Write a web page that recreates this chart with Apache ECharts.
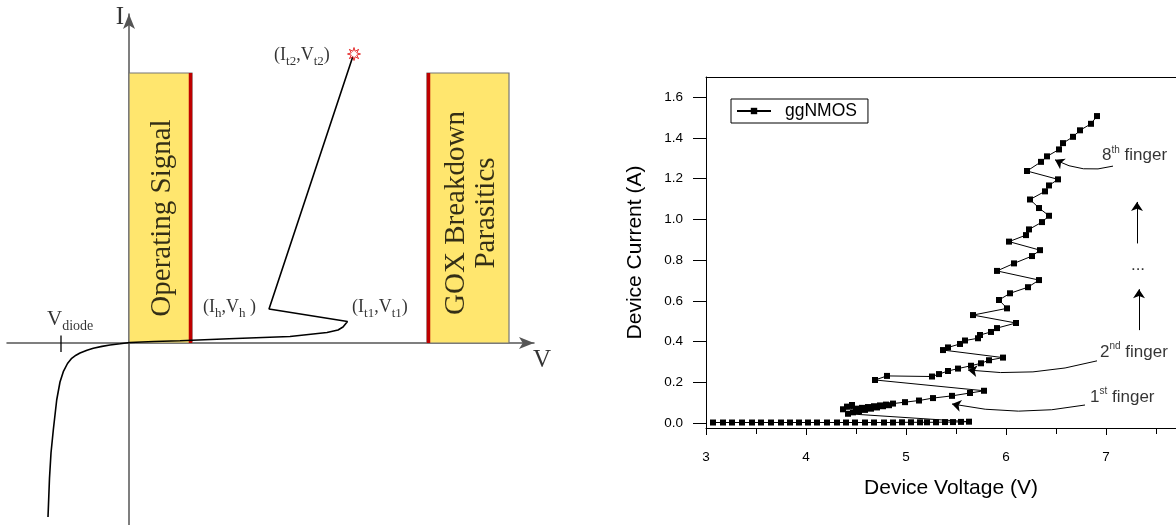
<!DOCTYPE html>
<html><head><meta charset="utf-8">
<script src="https://cdn.jsdelivr.net/npm/echarts@6/dist/echarts.min.js"></script>
<style>html,body{margin:0;padding:0;background:#fff}#c{width:1176px;height:525px}</style>
</head><body><div id="c"></div>
<script>
// ---------- Right chart: ggNMOS TLP curve (V, A) ----------
const ggVoltage = [3.07,3.17,3.26,3.36,3.46,3.55,3.65,3.75,3.84,3.93,4.02,4.11,4.21,4.31,4.40,4.49,4.59,4.68,4.78,4.87,4.96,5.05,5.14,5.21,5.30,5.39,5.47,5.55,5.63,
  4.42,4.47,4.53,4.59,4.65,4.71,4.77,4.83,4.37,4.41,4.46,4.50,4.56,4.62,4.68,4.74,4.80,4.87,
  4.99,5.13,5.27,5.46,5.64,5.78,
  4.69,4.81,5.26,5.33,5.42,5.52,5.65,5.75,5.83,5.97,
  5.37,5.42,5.54,5.59,5.72,5.74,5.85,5.91,6.10,
  5.67,6.01,5.93,6.04,6.22,6.33,
  5.91,6.08,6.26,6.34,
  6.03,6.20,6.23,6.36,6.43,6.33,6.24,6.39,6.43,6.52,
  6.21,6.35,6.41,6.53,6.57,6.67,6.74,6.85,6.91];
const ggCurrent = [0.002,0.002,0.002,0.002,0.002,0.002,0.002,0.002,0.002,0.002,0.002,0.002,0.002,0.002,0.002,0.002,0.002,0.002,0.002,0.002,0.003,0.003,0.003,0.003,0.003,0.004,0.004,0.005,0.006,
  0.045,0.052,0.058,0.064,0.070,0.076,0.082,0.087,0.067,0.080,0.088,0.070,0.074,0.078,0.082,0.086,0.090,0.095,
  0.102,0.110,0.122,0.133,0.147,0.158,
  0.211,0.231,0.228,0.240,0.255,0.267,0.281,0.293,0.308,0.321,
  0.358,0.371,0.388,0.405,0.416,0.432,0.447,0.466,0.491,
  0.530,0.563,0.604,0.637,0.667,0.702,
  0.747,0.784,0.820,0.849,
  0.891,0.923,0.951,0.987,1.018,1.056,1.098,1.138,1.167,1.197,
  1.238,1.283,1.310,1.344,1.375,1.406,1.438,1.470,1.508];
const yLabelValues = [0,0.2,0.4,0.6,0.8,1.0,1.2,1.4,1.6];
const yMinorValues = [0.1,0.3,0.5,0.7,0.9,1.1,1.3,1.5];
// annotation texts (right)
const noteText = ['{m|8}{p|th}{m| finger}','{m|2}{p|nd}{m| finger}','{m|1}{p|st}{m| finger}','{m|...}'];
const noteV = [6.96, 6.94, 6.84, 7.32];
const noteI = [1.315, 0.348, 0.128, 0.775];
const noteAlign = ['left','left','left','center'];
// annotation arrows (right)
const arrowV0 = [7.07, 6.91, 6.79, 7.31, 7.33];
const arrowI0 = [1.262, 0.305, 0.088, 0.882, 0.456];
const arrowV1 = [6.49, 5.62, 5.46, 7.31, 7.33];
const arrowI1 = [1.293, 0.260, 0.093, 1.086, 0.657];
const arrowCurve = [0.2, 0.1, 0.1, 0, 0];

// ---------- Left chart: schematic I-V (arbitrary units) ----------
const schV = [-8.1,-7.95,-7.8,-7.57,-7.23,-6.9,-6.57,-6.15,-5.73,-5.3,-4.9,-4.2,-3.57,-2.7,-1.9,-0.9,0.1,2.5,5.1,10,16.1,19.8,20.9,21.4,21.85,14.0,22.4];
const schI = [-17.4,-13.5,-11.0,-8.7,-5.7,-3.9,-2.87,-2.05,-1.53,-1.22,-1.0,-0.72,-0.53,-0.34,-0.2,-0.08,0.05,0.15,0.22,0.42,0.65,1.05,1.3,1.6,2.15,3.4,28.7];
const failV = [22.5], failI = [28.9];
const boxV0 = [0, 29.8], boxV1 = [6.3, 38.0], boxI0 = [0, 0], boxI1 = [27, 27];
const boxRedSide = ['right', 'left'];
const boxText = ['Operating Signal', 'GOX Breakdown\nParasitics'];
const boxTextV = [3.3, 34.2], boxTextI = [12.5, 13.0];
const schText = ['{a|I}', '{a|V}', '{m|(I}{s|t2}{m|,V}{s|t2}{m|)}', '{m|(I}{s|h}{m|,V}{s|h}{m| )}', '{m|(I}{s|t1}{m|,V}{s|t1}{m|)}', '{v|V}{d|diode}'];
const schTextV = [-0.9, 41.3, 14.5, 7.4, 22.3, -8.2];
const schTextI = [32.6, -1.7, 28.8, 3.6, 3.6, 2.4];
const schTextPos = ['inside','inside','right','right','right','right'];
const diodeTickV = [-6.8, -6.8], diodeTickI = [0.75, -0.9];

// star symbol
let starPath = 'path://';
for (let k = 0; k < 16; k++) {
  const r = k % 2 === 0 ? 10 : 4.5, a = k * Math.PI / 8 - Math.PI / 2;
  starPath += (k === 0 ? 'M' : 'L') + (10 + r * Math.cos(a)).toFixed(2) + ' ' + (10 + r * Math.sin(a)).toFixed(2) + ' ';
}
starPath += 'Z';

const serif = 'Liberation Serif';
const sans = 'Liberation Sans';
const sub = (fs, down) => ({fontFamily: serif, fontSize: fs, color: '#000', padding: [down * 2, 0, 0, 0], verticalAlign: 'middle'});

const chart = echarts.init(document.getElementById('c'), null, {renderer: 'canvas'});
chart.setOption({
  animation: false,
  backgroundColor: '#fff',
  legend: {
    data: ['ggNMOS'], left: 731, top: 99, selectedMode: false,
    borderColor: '#000', borderWidth: 1, borderRadius: 0, backgroundColor: '#fff',
    padding: [3, 11, 3, 5], itemWidth: 34, itemHeight: 8, itemGap: 5,
    textStyle: {fontFamily: sans, fontSize: 17.5, color: '#000', padding: [0, 0, 0, 9]}
  },
  grid: [
    {left: 7, top: 14, width: 527, height: 511, show: false},
    {left: 706, top: 77, width: 470, height: 351, show: false}
  ],
  xAxis: [
    {gridIndex: 0, type: 'value', min: -12.2, max: 40.5,
     axisLine: {show: true, onZero: true, symbol: ['none', 'arrow'], symbolSize: [9, 15], lineStyle: {color: '#555', width: 1.5}},
     axisTick: {show: false}, axisLabel: {show: false}, splitLine: {show: false}},
    {gridIndex: 1, type: 'value', min: 3, max: 7.7, interval: 1,
     axisLine: {show: true, onZero: false, lineStyle: {color: '#000', width: 1}},
     axisTick: {show: true, length: 7, lineStyle: {color: '#000'}},
     minorTick: {show: true, splitNumber: 2, length: 6, lineStyle: {color: '#000'}},
     axisLabel: {margin: 22, fontFamily: sans, fontSize: 13.5, color: '#000', showMaxLabel: false},
     splitLine: {show: false},
     name: 'Device Voltage (V)', nameLocation: 'middle', nameGap: 50,
     nameTextStyle: {fontFamily: sans, fontSize: 21, color: '#000', padding: [0, 0, 0, 20]}},
    {gridIndex: 1, type: 'value', min: 3, max: 7.7, position: 'top',
     axisLine: {show: true, onZero: false, lineStyle: {color: '#000', width: 1}},
     axisTick: {show: false}, axisLabel: {show: false}, splitLine: {show: false}}
  ],
  yAxis: [
    {gridIndex: 0, type: 'value', min: -18.2, max: 32.9,
     axisLine: {show: true, onZero: true, symbol: ['none', 'arrow'], symbolSize: [9, 15], lineStyle: {color: '#555', width: 1.5}},
     axisTick: {show: false}, axisLabel: {show: false}, splitLine: {show: false}},
    {gridIndex: 1, type: 'value', min: -0.025, max: 1.7,
     axisLine: {show: true, onZero: false, lineStyle: {color: '#000', width: 1}},
     axisTick: {show: true, length: 13, customValues: yLabelValues, lineStyle: {color: '#000'}},
     axisLabel: {margin: 23, customValues: yLabelValues, formatter: v => v.toFixed(1), fontFamily: sans, fontSize: 13.5, color: '#000'},
     splitLine: {show: false},
     name: 'Device Current (A)', nameLocation: 'middle', nameGap: 60,
     nameTextStyle: {fontFamily: sans, fontSize: 21, color: '#000'}},
    {gridIndex: 1, type: 'value', min: -0.025, max: 1.7,
     axisLine: {show: false, onZero: false},
     axisTick: {show: true, length: 6, customValues: yMinorValues, lineStyle: {color: '#000'}},
     axisLabel: {show: false}, splitLine: {show: false}}
  ],
  series: [
    {type: 'custom', xAxisIndex: 0, yAxisIndex: 0, z: 1, clip: false,
     data: boxV0.map((v, i) => [v, boxV1[i], boxI0[i], boxI1[i]]),
     encode: {x: [0, 1], y: [2, 3]},
     renderItem: (params, api) => {
       const a = api.coord([api.value(0), api.value(3)]);
       const b = api.coord([api.value(1), api.value(2)]);
       const rx = boxRedSide[params.dataIndex] === 'right' ? b[0] - 1.5 : a[0] + 1.5;
       return {type: 'group', children: [
         {type: 'rect', shape: {x: a[0], y: a[1], width: b[0] - a[0], height: b[1] - a[1]}, style: {fill: '#FFE66E', stroke: '#777', lineWidth: 1.2}},
         {type: 'line', shape: {x1: rx, y1: a[1], x2: rx, y2: b[1]}, style: {stroke: '#BE0000', lineWidth: 3.5}}
       ]};
     }},
    {type: 'scatter', xAxisIndex: 0, yAxisIndex: 0, z: 3, symbolSize: 0.1, clip: false, silent: true,
     itemStyle: {color: 'transparent'},
     data: boxText.map((t, i) => ({value: [boxTextV[i], boxTextI[i]], label: {show: true, formatter: t, position: 'inside', rotate: 90,
       fontFamily: serif, fontSize: 29, lineHeight: 30, color: '#000', align: 'center', verticalAlign: 'middle'}}))},
    {type: 'line', xAxisIndex: 0, yAxisIndex: 0, z: 4, showSymbol: false, symbol: 'none', clip: false,
     lineStyle: {color: '#000', width: 1.6}, data: schV.map((v, i) => [v, schI[i]])},
    {type: 'line', xAxisIndex: 0, yAxisIndex: 0, z: 4, symbol: 'none', clip: false,
     lineStyle: {color: '#000', width: 1.3}, data: diodeTickV.map((v, i) => [v, diodeTickI[i]])},
    {type: 'scatter', xAxisIndex: 0, yAxisIndex: 0, z: 5, symbol: starPath, symbolSize: 13, clip: false,
     itemStyle: {color: '#fff', borderColor: '#E00000', borderWidth: 1},
     data: failV.map((v, i) => [v, failI[i]])},
    {type: 'scatter', xAxisIndex: 0, yAxisIndex: 0, z: 5, symbolSize: 0.1, clip: false, silent: true,
     itemStyle: {color: 'transparent'},
     data: schText.map((t, i) => ({value: [schTextV[i], schTextI[i]], label: {show: true, formatter: t, position: schTextPos[i], distance: 0,
       rich: {
         a: {fontFamily: serif, fontSize: 25, color: '#000'},
         m: {fontFamily: serif, fontSize: 18, color: '#000', verticalAlign: 'middle'},
         s: sub(13, 7),
         v: {fontFamily: serif, fontSize: 21, color: '#000', verticalAlign: 'middle'},
         d: sub(14, 7)
       }}}))},
    {name: 'ggNMOS', type: 'line', xAxisIndex: 1, yAxisIndex: 1, z: 6, symbol: 'rect', symbolSize: 6,
     lineStyle: {color: '#000', width: 1}, itemStyle: {color: '#000'},
     data: ggVoltage.map((v, i) => [v, ggCurrent[i]])},
    {type: 'lines', coordinateSystem: 'cartesian2d', xAxisIndex: 1, yAxisIndex: 1, z: 6,
     symbol: ['none', 'arrow'], symbolSize: 9,
     lineStyle: {color: '#000', width: 1, opacity: 1},
     data: arrowV0.map((v, i) => ({coords: [[v, arrowI0[i]], [arrowV1[i], arrowI1[i]]], lineStyle: {curveness: arrowCurve[i]}}))},
    {type: 'scatter', xAxisIndex: 1, yAxisIndex: 1, z: 6, symbolSize: 0.1, clip: false, silent: true,
     itemStyle: {color: 'transparent'},
     data: noteText.map((t, i) => ({value: [noteV[i], noteI[i]], label: {show: true, formatter: t,
       position: noteAlign[i] === 'left' ? 'right' : 'inside', distance: 0,
       rich: {
         m: {fontFamily: sans, fontSize: 17, color: '#000', verticalAlign: 'middle'},
         p: {fontFamily: sans, fontSize: 10, color: '#000', verticalAlign: 'middle', padding: [0, 0, 11, 0]}
       }}}))}
  ]
});
</script>
</body></html>
